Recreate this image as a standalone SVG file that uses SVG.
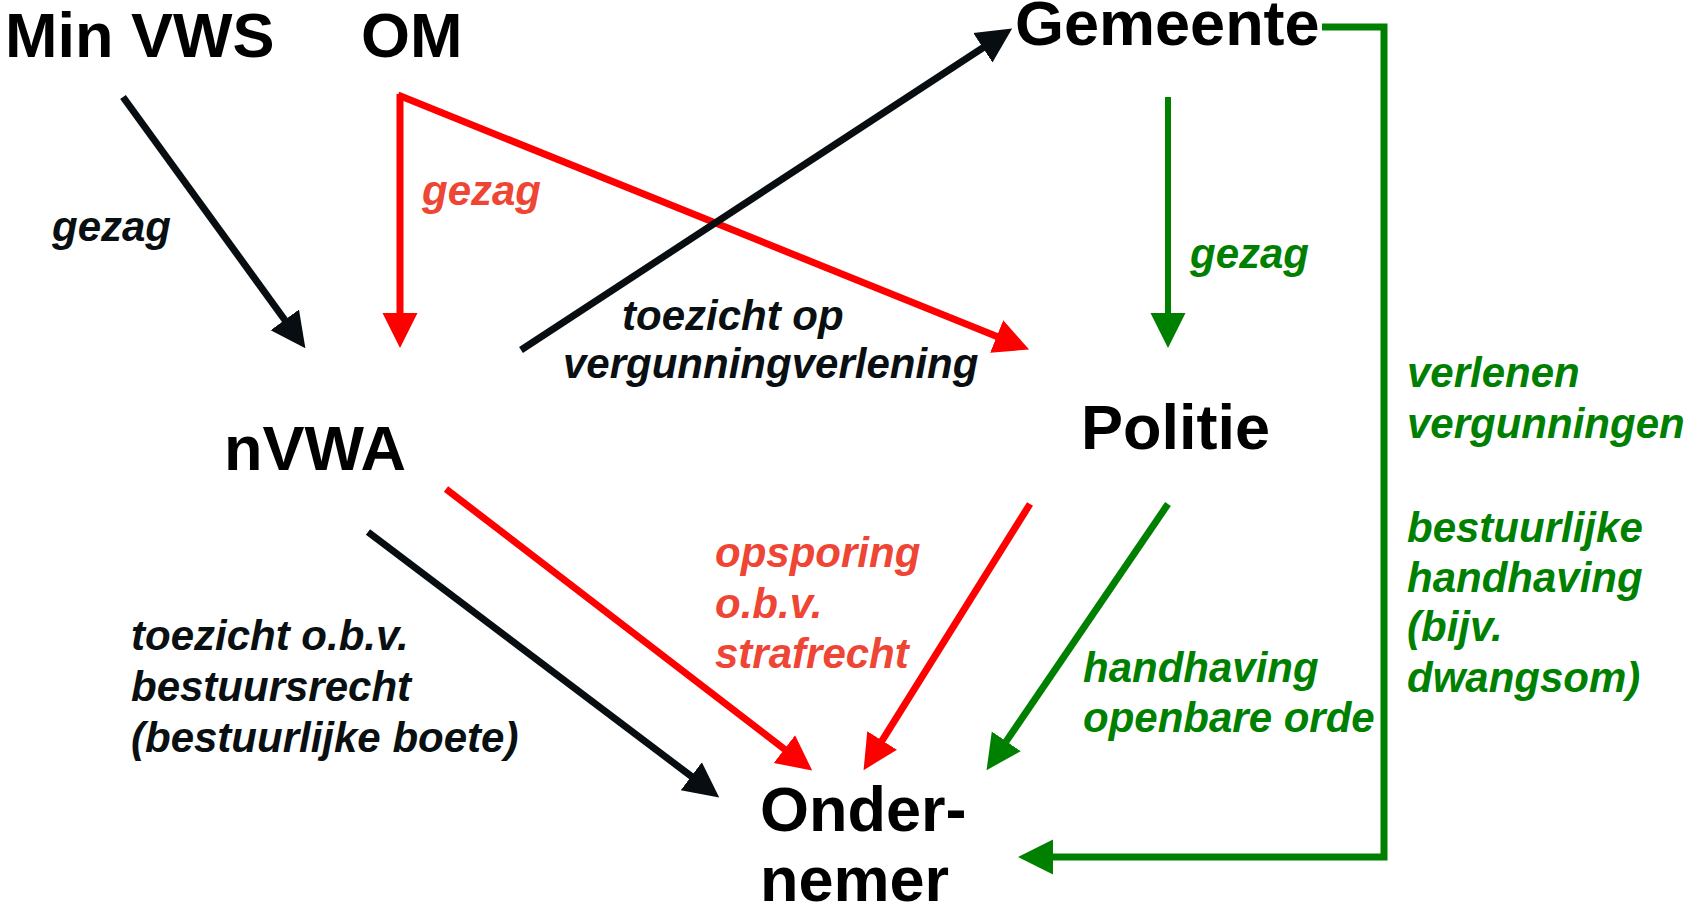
<svg xmlns="http://www.w3.org/2000/svg" width="1686" height="914" viewBox="0 0 1686 914">
<style>
.node{font-family:"Liberation Sans",Arial,sans-serif;font-weight:bold;font-size:63px;fill:#000}
.lbl{font-family:"Liberation Sans",Arial,sans-serif;font-weight:bold;font-style:italic;font-size:42px}
.k{fill:#0a0f12}
.r{fill:#ee4535}
.g{fill:#008000}
.lk{stroke:#070d10;stroke-width:7;fill:none}
.lr{stroke:#ff0000;stroke-width:7;fill:none}
.lg{stroke:#008000;stroke-width:7;fill:none}
</style>
<defs>
<marker id="ak" markerUnits="userSpaceOnUse" markerWidth="40" markerHeight="40" viewBox="0 -20 40 40" refX="1" refY="0" orient="auto"><path d="M0,-17.5 L35,0 L0,17.5 z" fill="#070d10"/></marker>
<marker id="ar" markerUnits="userSpaceOnUse" markerWidth="40" markerHeight="40" viewBox="0 -20 40 40" refX="1" refY="0" orient="auto"><path d="M0,-17.5 L35,0 L0,17.5 z" fill="#ff0000"/></marker>
<marker id="ag" markerUnits="userSpaceOnUse" markerWidth="40" markerHeight="40" viewBox="0 -20 40 40" refX="1" refY="0" orient="auto"><path d="M0,-17.5 L35,0 L0,17.5 z" fill="#008000"/></marker>
</defs>
<rect width="1686" height="914" fill="#fff"/>

<g id="connectors">
<line class="lk" x1="123" y1="97" x2="285.4" y2="320.7" marker-end="url(#ak)"/>
<line class="lr" x1="400" y1="94" x2="400" y2="314" marker-end="url(#ar)"/>
<line class="lr" x1="398" y1="95" x2="997.6" y2="336.8" marker-end="url(#ar)"/>
<line class="lk" x1="521" y1="350" x2="983.7" y2="47.2" marker-end="url(#ak)"/>
<line class="lg" style="stroke-width:6" x1="1168" y1="97" x2="1168" y2="314" marker-end="url(#ag)"/>
<line class="lk" x1="368" y1="532" x2="692.1" y2="776.9" marker-end="url(#ak)"/>
<line class="lr" x1="446" y1="489" x2="785.2" y2="749.7" marker-end="url(#ar)"/>
<line class="lr" x1="1030" y1="504" x2="881.6" y2="741.3" marker-end="url(#ar)"/>
<line class="lg" x1="1168" y1="504" x2="1005.7" y2="742.1" marker-end="url(#ag)"/>
<polyline class="lg" points="1322,27 1384,27 1384,857 1052,857" marker-end="url(#ag)"/>
</g>

<g id="labels">
<text class="lbl k" x="52" y="241">gezag</text>
<text class="lbl r" x="422" y="205">gezag</text>
<text class="lbl g" x="1190" y="268">gezag</text>
<text class="lbl k" x="622" y="330">toezicht op</text>
<text class="lbl k" x="563" y="378">vergunningverlening</text>
<text class="lbl k" x="131" y="650">toezicht o.b.v.</text>
<text class="lbl k" x="131" y="701">bestuursrecht</text>
<text class="lbl k" x="131" y="752">(bestuurlijke boete)</text>
<text class="lbl r" x="715" y="567">opsporing</text>
<text class="lbl r" x="715" y="618">o.b.v.</text>
<text class="lbl r" x="715" y="668">strafrecht</text>
<text class="lbl g" x="1083" y="682">handhaving</text>
<text class="lbl g" x="1083" y="732">openbare orde</text>
<text class="lbl g" x="1407" y="387">verlenen</text>
<text class="lbl g" x="1407" y="438">vergunningen</text>
<text class="lbl g" x="1407" y="542">bestuurlijke</text>
<text class="lbl g" x="1407" y="592">handhaving</text>
<text class="lbl g" x="1407" y="641">(bijv.</text>
<text class="lbl g" x="1407" y="692">dwangsom)</text>
</g>

<g id="node-minvws"><text class="node" x="5" y="57">Min VWS</text></g>
<g id="node-om"><text class="node" x="361" y="57">OM</text></g>
<g id="node-gemeente"><text class="node" x="1015" y="45">Gemeente</text></g>
<g id="node-nvwa"><text class="node" x="224" y="470">nVWA</text></g>
<g id="node-politie"><text class="node" x="1081" y="449">Politie</text></g>
<g id="node-ondernemer"><text class="node" x="760" y="831">Onder-</text><text class="node" x="760" y="901">nemer</text></g>
</svg>
